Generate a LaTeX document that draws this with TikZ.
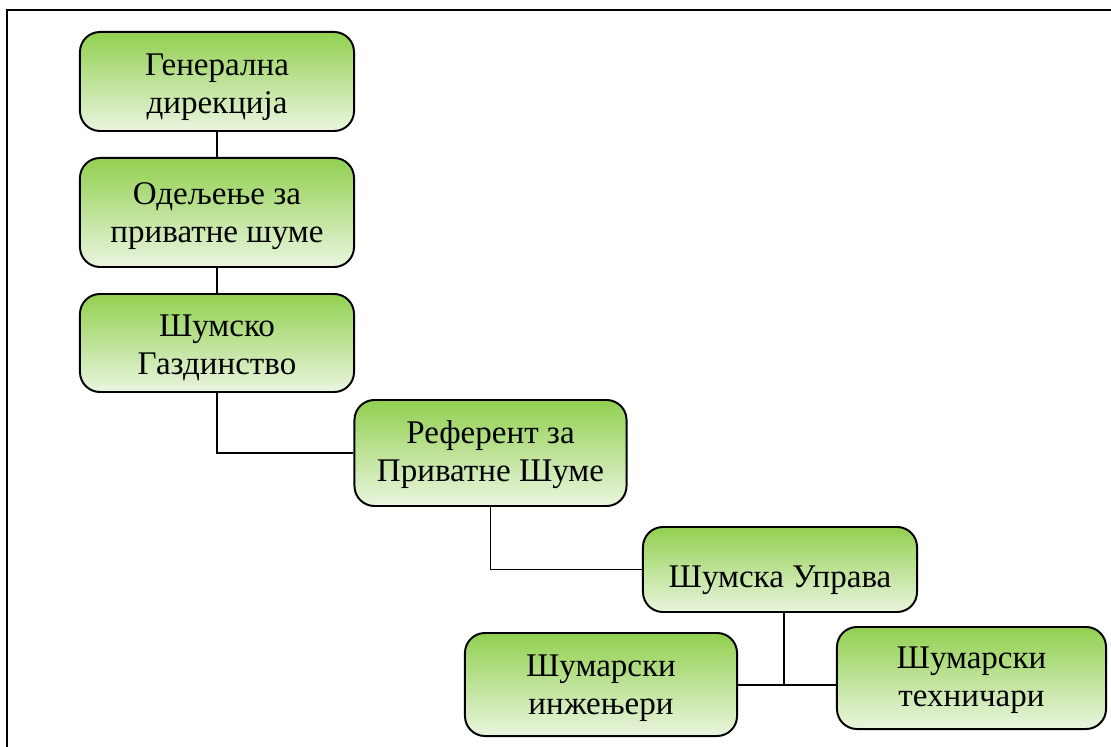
\documentclass[tikz,border=0pt]{standalone}
\usepackage{fontspec}
\setmainfont{Liberation Serif}
\usepackage{tikz}
\usetikzlibrary{positioning}
\usetikzlibrary{calc}

\definecolor{boxtop}{RGB}{146,208,80}
\definecolor{boxbot}{RGB}{234,245,223}

% pushes a node's text a little down
\newcommand{\pushdn}[1]{\rule{0pt}{#1}}

\begin{document}
\begin{tikzpicture}[
  x=0.025cm, y=-0.025cm,
  font=\fontsize{23.5}{27}\selectfont,
  unit/.style={draw, line width=1.4pt, rounded corners=0.5cm, align=center,
    top color=boxtop, bottom color=boxbot, minimum width=6.85cm, inner sep=2pt},
  link/.style={line width=1.3pt},
  frame/.style={line width=1.8pt}
]

\useasboundingbox (0,0) rectangle (1111,747);

% Outer frame (open to the right and below)
\draw[frame] (7,747) -- (7,10) -- (1111,10);

% Main chain
\node[unit, minimum height=2.475cm] (gen)  at (217, 81.5) {\pushdn{24pt}Генерална\\дирекција};
\node[unit, minimum height=2.725cm] (odel) at (217,212.5) {\pushdn{21pt}Одељење за\\приватне шуме};
\node[unit, minimum height=2.45cm]  (gazd) at (217,343)   {\pushdn{22pt}Шумско\\Газдинство};

% Lower levels
\node[unit, minimum width=6.8cm, minimum height=2.65cm]  (ref)    at (490.5,453)  {\pushdn{18pt}Референт за\\Приватне Шуме};
\node[unit, minimum height=2.125cm] (uprava) at (780,569.5)  {\pushdn{31pt}Шумска Управа};
\node[unit, minimum width=6.8cm, minimum height=2.575cm] (inz)   at (601,684.5)  {\pushdn{20pt}Шумарски\\инжењери};
\node[unit, minimum width=6.725cm, minimum height=2.55cm] (tehn) at (971.5,678) {\pushdn{19pt}Шумарски\\техничари};

% Connectors
\draw[link] (gen) -- (odel);
\draw[link] (odel) -- (gazd);
\draw[link] (gazd.south) |- (ref.west);
\draw[link] (ref.south) |- (uprava.west);

\coordinate (j) at (784,685);
\draw[link] (uprava.south -| j) -- (j);
\draw[link] (inz.east |- j) -- (tehn.west |- j);

\end{tikzpicture}
\end{document}
